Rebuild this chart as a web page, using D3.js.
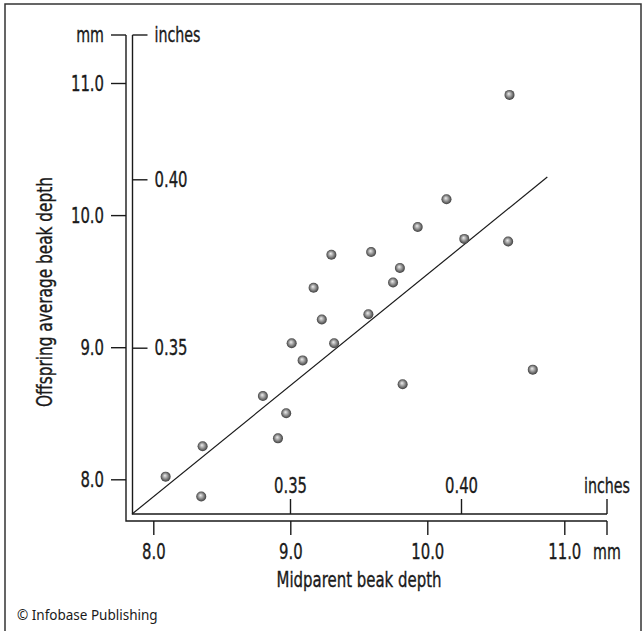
<!DOCTYPE html>
<html>
<head>
<meta charset="utf-8">
<script src="https://cdn.jsdelivr.net/npm/d3@7"></script>
<style>
  body { margin: 0; background: #fff; }
  svg text { font-family: "Liberation Sans Narrow", "DejaVu Sans Condensed", "Roboto Condensed", sans-serif; fill: #1a1a1a; }
</style>
</head>
<body>
<svg id="chart" width="642" height="631"></svg>
<script>
// midparent (x) and offspring (y) beak depth, mm
const midparentMm = [8.09, 8.36, 8.35, 8.80, 8.97, 8.91, 9.09, 9.01, 9.32, 9.23, 9.17, 9.30,
  9.57, 9.59, 9.75, 9.80, 9.82, 9.93, 10.14, 10.27, 10.59, 10.77, 10.60];
const offspringMm = [8.02, 8.25, 7.87, 8.63, 8.50, 8.31, 8.90, 9.03, 9.03, 9.21, 9.45, 9.70,
  9.25, 9.72, 9.49, 9.60, 8.72, 9.91, 10.12, 9.82, 9.80, 8.83, 10.91];

// fitted line end points (mm)
const fitX = [7.845, 10.876];
const fitY = [7.737, 10.288];

const mmTicks = [8.0, 9.0, 10.0, 11.0];
const inchTicks = [0.35, 0.40];

const svg = d3.select("#chart");

// frame
svg.append("rect")
  .attr("x", 5).attr("y", 4).attr("width", 636).attr("height", 640)
  .attr("fill", "none").attr("stroke", "#333").attr("stroke-width", 1.5);

// axis frame positions
const outerX = 126, innerX = 132.5;
const outerY = 521, innerY = 514;
const topY = 35, rightX = 607;
const tickLen = 15;

const xMm = d3.scaleLinear().domain([8, 11]).range([153.3, 564.3]);
const yMm = d3.scaleLinear().domain([8, 11]).range([479.3, 83]);
const xIn = d3.scaleLinear().domain([0.35, 0.40]).range([290, 461]);
const yIn = d3.scaleLinear().domain([0.35, 0.40]).range([347.7, 179.3]);

const fmt2 = d3.format(".2f");
const fmt1 = d3.format(".1f");
const fontSize = 22;

// the original uses a condensed face; squeeze the fallback horizontally about its anchor
function squeeze(sel, k) {
  sel.each(function () {
    const x = +(this.getAttribute("x") || 0);
    d3.select(this).attr("transform", `translate(${x},0) scale(${k},1) translate(${-x},0)`);
  });
}
function heavy(sel) {
  sel.attr("stroke", "#1a1a1a").attr("stroke-width", 0.35);
}

const lines = svg.append("g").attr("stroke", "#1a1a1a").attr("stroke-width", 1.4).attr("fill", "none");
lines.append("path").attr("d", `M${outerX},${topY}V${outerY}H${rightX}`);
lines.append("path").attr("d", `M${innerX},${topY}V${innerY}H${rightX}`);

function styleAxis(g) {
  g.select(".domain").remove();
  g.selectAll(".tick line").attr("stroke", "#1a1a1a").attr("stroke-width", 1.4);
  g.selectAll(".tick text").attr("font-size", fontSize).attr("font-family", null).attr("fill", "#1a1a1a")
    .call(squeeze, 0.75).call(heavy);
}

// left (mm) axis
svg.append("g")
  .attr("transform", `translate(${outerX},0)`)
  .call(d3.axisLeft(yMm).tickValues(mmTicks).tickSize(tickLen).tickPadding(7).tickFormat(fmt1))
  .call(styleAxis);

// inner (inches) vertical axis
svg.append("g")
  .attr("transform", `translate(${innerX},0)`)
  .call(d3.axisRight(yIn).tickValues(inchTicks).tickSize(tickLen).tickPadding(7).tickFormat(fmt2))
  .call(styleAxis);

// bottom (mm) axis
svg.append("g")
  .attr("transform", `translate(0,${outerY})`)
  .call(d3.axisBottom(xMm).tickValues(mmTicks).tickSize(14).tickPadding(8).tickFormat(fmt1))
  .call(styleAxis);

// inner (inches) horizontal axis
svg.append("g")
  .attr("transform", `translate(0,${innerY})`)
  .call(d3.axisTop(xIn).tickValues(inchTicks).tickSize(15).tickPadding(6).tickFormat(fmt2))
  .call(styleAxis);

// unit ticks at the axis ends
lines.append("path").attr("d", `M${outerX},${topY}h${-tickLen}`);
lines.append("path").attr("d", `M${innerX},${topY}h${tickLen}`);
lines.append("path").attr("d", `M${rightX},${outerY}v14`);
lines.append("path").attr("d", `M${rightX},${innerY}v-15`);

const units = svg.append("g").attr("font-size", fontSize);
units.append("text").attr("x", outerX - tickLen - 7).attr("y", topY).attr("dy", "0.32em")
  .attr("text-anchor", "end").text("mm");
units.append("text").attr("x", innerX + tickLen + 7).attr("y", topY).attr("dy", "0.32em")
  .text("inches");
units.append("text").attr("x", rightX).attr("y", outerY + 14 + 8).attr("dy", "0.71em")
  .attr("text-anchor", "middle").text("mm");
units.append("text").attr("x", rightX).attr("y", innerY - 15 - 6)
  .attr("text-anchor", "middle").text("inches");
units.selectAll("text").call(squeeze, 0.72).call(heavy);

// titles
const titles = svg.append("g").attr("font-size", fontSize);
titles.append("text").attr("x", 359).attr("y", 587).attr("text-anchor", "middle")
  .attr("textLength", 165).attr("lengthAdjust", "spacingAndGlyphs")
  .text("Midparent beak depth");
titles.append("text").attr("transform", "translate(52,292) rotate(-90)").attr("text-anchor", "middle")
  .attr("textLength", 230).attr("lengthAdjust", "spacingAndGlyphs")
  .text("Offspring average beak depth");
titles.selectAll("text").call(heavy);

svg.append("text").attr("x", 17).attr("y", 620)
  .style("font-family", "'Noto Sans', 'DejaVu Sans', sans-serif").attr("font-size", 13.5)
  .text("\u00A9 Infobase Publishing");

// regression line
svg.append("line")
  .attr("x1", xMm(fitX[0])).attr("y1", yMm(fitY[0]))
  .attr("x2", xMm(fitX[1])).attr("y2", yMm(fitY[1]))
  .attr("stroke", "#1a1a1a").attr("stroke-width", 1.2);

// shaded balls
const grad = svg.append("defs").append("radialGradient").attr("id", "ball")
  .attr("cx", "50%").attr("cy", "50%").attr("r", "55%").attr("fx", "42%").attr("fy", "38%");
grad.append("stop").attr("offset", "0%").attr("stop-color", "#eeeeee");
grad.append("stop").attr("offset", "45%").attr("stop-color", "#9a9a9a");
grad.append("stop").attr("offset", "100%").attr("stop-color", "#2e2e2e");

svg.append("g").selectAll("circle")
  .data(midparentMm.map((x, i) => ({ x, y: offspringMm[i] })))
  .join("circle")
  .attr("cx", d => xMm(d.x))
  .attr("cy", d => yMm(d.y))
  .attr("r", 5)
  .attr("fill", "url(#ball)");
</script>
</body>
</html>
